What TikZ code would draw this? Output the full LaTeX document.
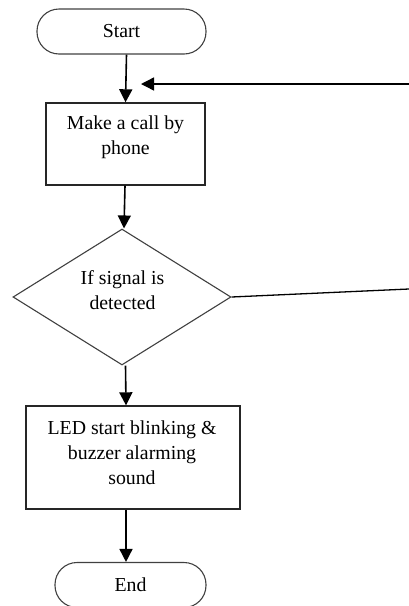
\documentclass[tikz,border=0pt]{standalone}
\usepackage{fontspec}
\setmainfont{Liberation Serif}
\usetikzlibrary{arrows.meta,shapes.geometric}
\begin{document}
\begin{tikzpicture}[x=1pt,y=-1pt,
  every node/.style={font=\fontsize{19.8}{25}\selectfont},
  term/.style={draw=black!75,line width=1.1pt,rounded corners=22pt,minimum width=#1,minimum height=45pt,inner sep=0pt},
  boxshape/.style={draw=black!85,line width=1.4pt,inner sep=0pt},
  dec/.style={draw=black!75,line width=1.1pt,diamond,fill=white,minimum width=218pt,minimum height=136pt,inner sep=0pt},
  txt/.style={align=center,inner sep=0pt},
  arr/.style={line width=1.6pt,-{Triangle[length=13pt,width=13pt]}},
  ln/.style={line width=1.3pt}]
\useasboundingbox (0,0) rectangle (409,606);
% nodes
\node[term=169pt] (st) at (121.5,31.5) {Start};
\node[boxshape,minimum width=159pt,minimum height=82pt] (mk) at (125.5,144) {};
\node[txt] (mkt) at (125.5,137.5) {Make a call by\\phone};
\node[dec] (dc) at (122,297) {};
\node[txt] (dct) at (122.5,290.5) {If signal is\\detected};
\node[boxshape,minimum width=214pt,minimum height=103pt] (led) at (133,457.5) {};
\node[txt] (ledt) at (132,453) {LED start blinking \&\\buzzer alarming\\sound};
\node[term=151pt] (en) at (130.5,585) {};
\node[inner sep=0pt] (ent) at (130.5,585) {End};
% free ends
\coordinate (fbR) at (409,84);
\coordinate (fbL) at (141,84);
\coordinate (dcR) at (409,289);
% connectors
\draw[arr] (st.south -| 126.5,0) -- (mk.north -| 125.5,0);
\draw[arr,line width=1.4pt] (fbR) -- (fbL);
\draw[arr] (mk.south -| 125,0) -- (dc.north -| 124,0);
\draw[ln] (dc.east) -- (dcR);
\draw[arr] (dc.south -| 125.5,0) -- (led.north -| 126,0);
\draw[arr] (led.south -| 126,0) -- (en.north -| 126,0);
\end{tikzpicture}
\end{document}
